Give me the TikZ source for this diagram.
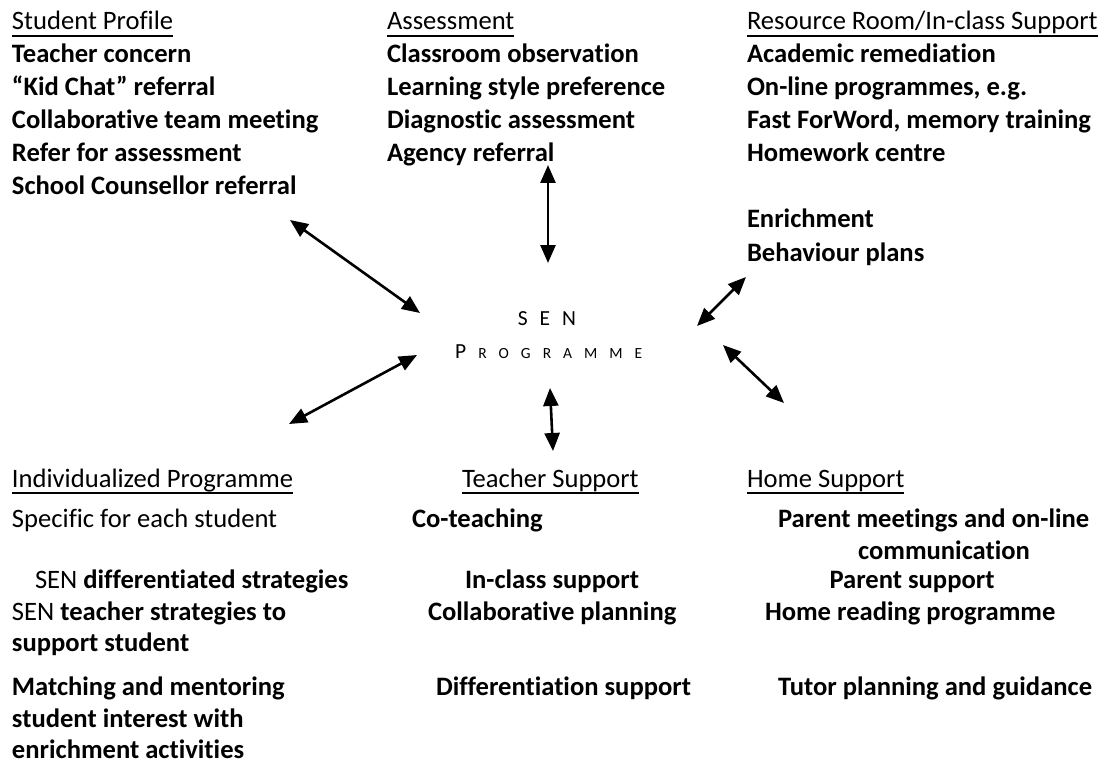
\documentclass[tikz,border=0pt]{standalone}
\usepackage{fontspec}
\setmainfont{Carlito}[Ligatures=NoCommon]
\usetikzlibrary{arrows.meta}
\begin{document}
\begin{tikzpicture}[x=1pt,y=-1pt,
  txt/.style={anchor=base west,inner sep=0pt,outer sep=0pt,font=\fontsize{26.6}{32}\selectfont},
  item/.style={txt,font=\fontsize{26.6}{32}\selectfont\bfseries},
  head/.style={txt},
  link/.style={line width=2.6pt,{Triangle[length=18pt,width=15pt]}-{Triangle[length=18pt,width=15pt]}},
  uline/.style={line width=1.3pt}]
\useasboundingbox (0,0) rectangle (1104,765);

% top-left block
\node[head] (sp) at (12,30) {Student Profile};
\node[item] (sp1) at (12,63) {Teacher concern};
\node[item] (sp2) at (12,96) {“Kid Chat” referral};
\node[item] (sp3) at (12,129) {Collaborative team meeting};
\node[item] (sp4) at (12,162) {Refer for assessment};
\node[item] (sp5) at (12,195) {School Counsellor referral};

% top-middle block
\node[head] (as) at (387,30) {Assessment};
\node[item] (as1) at (387,63) {Classroom observation};
\node[item] (as2) at (387,96) {Learning style preference};
\node[item] (as3) at (387,129) {Diagnostic assessment};
\node[item] (as4) at (387,162) {Agency referral};

% top-right block
\node[head] (rr) at (747,30) {Resource Room/In-class Support};
\node[item] (rr1) at (747,63) {Academic remediation};
\node[item] (rr2) at (747,96) {On-line programmes, e.g.};
\node[item] (rr3) at (747,129) {Fast ForWord, memory training};
\node[item] (rr4) at (747,162) {Homework centre};
\node[item] (rr5) at (747,227) {Enrichment};
\node[item] (rr6) at (747,261) {Behaviour plans};

% centre
\node[anchor=base,inner sep=0pt,font=\fontsize{21.5}{24}\selectfont] (sen) at (547,325)
  {S\hspace{12pt}E\hspace{12pt}N};
\node[anchor=base west,inner sep=0pt] (prog) at (455,358)
  {\fontsize{21.5}{24}\selectfont P\hspace{12pt}\fontsize{15.5}{18}\selectfont R\hspace{12pt}O\hspace{12pt}G\hspace{12pt}R\hspace{12pt}A\hspace{12pt}M\hspace{12pt}M\hspace{12pt}E};

% bottom-left block
\node[head] (ip) at (12,487) {Individualized Programme};
\node[txt] (ip1) at (12,527) {Specific for each student};
\node[txt] (ip2) at (35,588) {SEN \textbf{differentiated strategies}};
\node[txt] (ip3) at (12,620) {SEN \textbf{teacher strategies to}};
\node[item] (ip4) at (12,651) {support student};
\node[item] (ip5) at (12,695) {Matching and mentoring};
\node[item] (ip6) at (12,727) {student interest with};
\node[item] (ip7) at (12,758) {enrichment activities};

% bottom-middle block
\node[head] (ts) at (462,487) {Teacher Support};
\node[item] (ts1) at (412,527) {Co-teaching};
\node[item] (ts2) at (465,588) {In-class support};
\node[item] (ts3) at (428,620) {Collaborative planning};
\node[item] (ts4) at (436,695) {Differentiation support};

% bottom-right block
\node[head] (hs) at (747,487) {Home Support};
\node[item] (hs1) at (778,527) {Parent meetings and on-line};
\node[item,anchor=base] (hs2) at (944,559) {communication};
\node[item,anchor=base] (hs3) at (912,588) {Parent support};
\node[item] (hs4) at (765,620) {Home reading programme};
\node[item] (hs5) at (778,695) {Tutor planning and guidance};

% underlined headings
\foreach \h in {sp,as,rr,ip,ts,hs}
  \draw[uline] ([yshift=-6pt]\h.base west) -- ([yshift=-6pt]\h.base east);

% connector end points
\coordinate (a1s) at (290,220); \coordinate (a1e) at (420,313);
\coordinate (a2s) at (548,165); \coordinate (a2e) at (548,263);
\coordinate (a3s) at (697,326); \coordinate (a3e) at (746,277);
\coordinate (a4s) at (289,424); \coordinate (a4e) at (417,355);
\coordinate (a5s) at (550,388); \coordinate (a5e) at (553,451);
\coordinate (a6s) at (723,345); \coordinate (a6e) at (784,403);

\foreach \i in {1,...,6}
  \draw[link] (a\i s) -- (a\i e);
\end{tikzpicture}
\end{document}
